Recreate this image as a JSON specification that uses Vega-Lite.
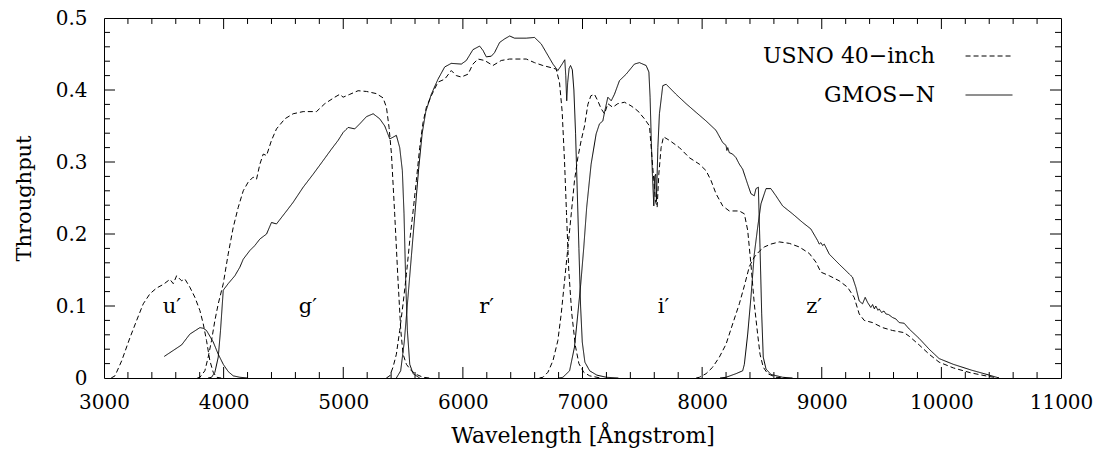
{
  "$schema": "https://vega.github.io/schema/vega-lite/v6.json",
  "width": 957,
  "height": 360,
  "autosize": {"type": "none"},
  "padding": {"left": 104, "top": 18, "right": 43, "bottom": 74},
  "background": "white",
  "config": {
    "view": {"stroke": "#000", "strokeWidth": 1},
    "font": "DejaVu Serif",
    "axis": {"grid": false, "domain": false, "labelColor": "#000", "titleColor": "#000", "labelFont": "DejaVu Serif", "titleFont": "DejaVu Serif", "titleFontWeight": "normal", "labelFontSize": 20, "labelOverlap": false, "labelFlush": false}
  },
  "datasets": {
    "labels": [
      {"lab": "u′", "w": 3568, "t": 0.098},
      {"lab": "g′", "w": 4704, "t": 0.098},
      {"lab": "r′", "w": 6198, "t": 0.098},
      {"lab": "i′", "w": 7677, "t": 0.098},
      {"lab": "z′", "w": 8937, "t": 0.098}
    ],
    "xmaj": [{"v":4000},{"v":5000},{"v":6000},{"v":7000},{"v":8000},{"v":9000},{"v":10000}],
    "xmin": [{"v":3200},{"v":3400},{"v":3600},{"v":3800},{"v":4200},{"v":4400},{"v":4600},{"v":4800},{"v":5200},{"v":5400},{"v":5600},{"v":5800},{"v":6200},{"v":6400},{"v":6600},{"v":6800},{"v":7200},{"v":7400},{"v":7600},{"v":7800},{"v":8200},{"v":8400},{"v":8600},{"v":8800},{"v":9200},{"v":9400},{"v":9600},{"v":9800},{"v":10200},{"v":10400},{"v":10600},{"v":10800}],
    "ymaj": [{"v":0.1},{"v":0.2},{"v":0.3},{"v":0.4}],
    "ymin": [{"v":0.02},{"v":0.04},{"v":0.06},{"v":0.08},{"v":0.12},{"v":0.14},{"v":0.16},{"v":0.18},{"v":0.22},{"v":0.24},{"v":0.26},{"v":0.28},{"v":0.32},{"v":0.34},{"v":0.36},{"v":0.38},{"v":0.42},{"v":0.44},{"v":0.46},{"v":0.48}],
    "curves": [
      {"s":"U","f":"u","w":3060,"t":0},{"s":"U","f":"u","w":3092,"t":0.003},{"s":"U","f":"u","w":3148,"t":0.024},{"s":"U","f":"u","w":3217,"t":0.056},{"s":"U","f":"u","w":3273,"t":0.08},{"s":"U","f":"u","w":3328,"t":0.103},{"s":"U","f":"u","w":3384,"t":0.117},{"s":"U","f":"u","w":3440,"t":0.125},{"s":"U","f":"u","w":3496,"t":0.13},{"s":"U","f":"u","w":3551,"t":0.137},{"s":"U","f":"u","w":3579,"t":0.131},{"s":"U","f":"u","w":3607,"t":0.142},{"s":"U","f":"u","w":3649,"t":0.135},{"s":"U","f":"u","w":3676,"t":0.1375},{"s":"U","f":"u","w":3718,"t":0.126},{"s":"U","f":"u","w":3760,"t":0.112},{"s":"U","f":"u","w":3802,"t":0.0935},{"s":"U","f":"u","w":3830,"t":0.075},{"s":"U","f":"u","w":3857,"t":0.052},{"s":"U","f":"u","w":3885,"t":0.024},{"s":"U","f":"u","w":3913,"t":0.008},{"s":"U","f":"u","w":3941,"t":0.001},{"s":"U","f":"u","w":3980,"t":0},
      {"s":"G","f":"u","w":3504,"t":0.03},{"s":"G","f":"u","w":3649,"t":0.046},{"s":"G","f":"u","w":3718,"t":0.061},{"s":"G","f":"u","w":3802,"t":0.07},{"s":"G","f":"u","w":3830,"t":0.069},{"s":"G","f":"u","w":3857,"t":0.066},{"s":"G","f":"u","w":3913,"t":0.05},{"s":"G","f":"u","w":3955,"t":0.033},{"s":"G","f":"u","w":3997,"t":0.019},{"s":"G","f":"u","w":4038,"t":0.009},{"s":"G","f":"u","w":4080,"t":0.003},{"s":"G","f":"u","w":4136,"t":0.001},{"s":"G","f":"u","w":4200,"t":0},
      {"s":"U","f":"g","w":3780,"t":0},{"s":"U","f":"g","w":3802,"t":0.001},{"s":"U","f":"g","w":3843,"t":0.01},{"s":"U","f":"g","w":3871,"t":0.029},{"s":"U","f":"g","w":3899,"t":0.052},{"s":"U","f":"g","w":3927,"t":0.08},{"s":"U","f":"g","w":3955,"t":0.103},{"s":"U","f":"g","w":3997,"t":0.131},{"s":"U","f":"g","w":4038,"t":0.172},{"s":"U","f":"g","w":4080,"t":0.209},{"s":"U","f":"g","w":4122,"t":0.237},{"s":"U","f":"g","w":4164,"t":0.26},{"s":"U","f":"g","w":4205,"t":0.272},{"s":"U","f":"g","w":4247,"t":0.279},{"s":"U","f":"g","w":4275,"t":0.276},{"s":"U","f":"g","w":4303,"t":0.297},{"s":"U","f":"g","w":4331,"t":0.311},{"s":"U","f":"g","w":4359,"t":0.309},{"s":"U","f":"g","w":4400,"t":0.33},{"s":"U","f":"g","w":4442,"t":0.346},{"s":"U","f":"g","w":4512,"t":0.36},{"s":"U","f":"g","w":4581,"t":0.367},{"s":"U","f":"g","w":4665,"t":0.37},{"s":"U","f":"g","w":4776,"t":0.37},{"s":"U","f":"g","w":4846,"t":0.381},{"s":"U","f":"g","w":4929,"t":0.39},{"s":"U","f":"g","w":4971,"t":0.394},{"s":"U","f":"g","w":4999,"t":0.39},{"s":"U","f":"g","w":5055,"t":0.394},{"s":"U","f":"g","w":5124,"t":0.399},{"s":"U","f":"g","w":5194,"t":0.398},{"s":"U","f":"g","w":5277,"t":0.395},{"s":"U","f":"g","w":5333,"t":0.389},{"s":"U","f":"g","w":5361,"t":0.376},{"s":"U","f":"g","w":5383,"t":0.348},{"s":"U","f":"g","w":5403,"t":0.311},{"s":"U","f":"g","w":5430,"t":0.228},{"s":"U","f":"g","w":5458,"t":0.135},{"s":"U","f":"g","w":5481,"t":0.066},{"s":"U","f":"g","w":5500,"t":0.033},{"s":"U","f":"g","w":5528,"t":0.019},{"s":"U","f":"g","w":5570,"t":0.01},{"s":"U","f":"g","w":5611,"t":0.005},{"s":"U","f":"g","w":5667,"t":0.001},{"s":"U","f":"g","w":5720,"t":0},
      {"s":"G","f":"g","w":3870,"t":0},{"s":"G","f":"g","w":3899,"t":0.001},{"s":"G","f":"g","w":3927,"t":0.008},{"s":"G","f":"g","w":3955,"t":0.029},{"s":"G","f":"g","w":3974,"t":0.066},{"s":"G","f":"g","w":3997,"t":0.122},{"s":"G","f":"g","w":4038,"t":0.131},{"s":"G","f":"g","w":4094,"t":0.142},{"s":"G","f":"g","w":4136,"t":0.154},{"s":"G","f":"g","w":4164,"t":0.165},{"s":"G","f":"g","w":4219,"t":0.177},{"s":"G","f":"g","w":4261,"t":0.184},{"s":"G","f":"g","w":4303,"t":0.193},{"s":"G","f":"g","w":4359,"t":0.2},{"s":"G","f":"g","w":4400,"t":0.216},{"s":"G","f":"g","w":4442,"t":0.214},{"s":"G","f":"g","w":4526,"t":0.232},{"s":"G","f":"g","w":4581,"t":0.244},{"s":"G","f":"g","w":4665,"t":0.265},{"s":"G","f":"g","w":4748,"t":0.283},{"s":"G","f":"g","w":4832,"t":0.302},{"s":"G","f":"g","w":4902,"t":0.318},{"s":"G","f":"g","w":4957,"t":0.33},{"s":"G","f":"g","w":4999,"t":0.341},{"s":"G","f":"g","w":5041,"t":0.348},{"s":"G","f":"g","w":5096,"t":0.346},{"s":"G","f":"g","w":5138,"t":0.353},{"s":"G","f":"g","w":5194,"t":0.363},{"s":"G","f":"g","w":5250,"t":0.367},{"s":"G","f":"g","w":5305,"t":0.36},{"s":"G","f":"g","w":5347,"t":0.35},{"s":"G","f":"g","w":5389,"t":0.332},{"s":"G","f":"g","w":5444,"t":0.337},{"s":"G","f":"g","w":5472,"t":0.32},{"s":"G","f":"g","w":5494,"t":0.288},{"s":"G","f":"g","w":5508,"t":0.228},{"s":"G","f":"g","w":5522,"t":0.135},{"s":"G","f":"g","w":5536,"t":0.066},{"s":"G","f":"g","w":5556,"t":0.019},{"s":"G","f":"g","w":5584,"t":0.006},{"s":"G","f":"g","w":5639,"t":0},
      {"s":"U","f":"r","w":5360,"t":0},{"s":"U","f":"r","w":5389,"t":0.003},{"s":"U","f":"r","w":5416,"t":0.015},{"s":"U","f":"r","w":5444,"t":0.033},{"s":"U","f":"r","w":5472,"t":0.066},{"s":"U","f":"r","w":5500,"t":0.103},{"s":"U","f":"r","w":5528,"t":0.144},{"s":"U","f":"r","w":5556,"t":0.191},{"s":"U","f":"r","w":5584,"t":0.232},{"s":"U","f":"r","w":5611,"t":0.274},{"s":"U","f":"r","w":5639,"t":0.32},{"s":"U","f":"r","w":5667,"t":0.355},{"s":"U","f":"r","w":5695,"t":0.376},{"s":"U","f":"r","w":5736,"t":0.392},{"s":"U","f":"r","w":5792,"t":0.411},{"s":"U","f":"r","w":5848,"t":0.415},{"s":"U","f":"r","w":5903,"t":0.427},{"s":"U","f":"r","w":5945,"t":0.42},{"s":"U","f":"r","w":5987,"t":0.418},{"s":"U","f":"r","w":6043,"t":0.422},{"s":"U","f":"r","w":6084,"t":0.436},{"s":"U","f":"r","w":6126,"t":0.443},{"s":"U","f":"r","w":6182,"t":0.441},{"s":"U","f":"r","w":6251,"t":0.434},{"s":"U","f":"r","w":6321,"t":0.441},{"s":"U","f":"r","w":6391,"t":0.443},{"s":"U","f":"r","w":6530,"t":0.443},{"s":"U","f":"r","w":6599,"t":0.438},{"s":"U","f":"r","w":6669,"t":0.434},{"s":"U","f":"r","w":6739,"t":0.431},{"s":"U","f":"r","w":6780,"t":0.429},{"s":"U","f":"r","w":6808,"t":0.41},{"s":"U","f":"r","w":6830,"t":0.37},{"s":"U","f":"r","w":6850,"t":0.3},{"s":"U","f":"r","w":6866,"t":0.23},{"s":"U","f":"r","w":6885,"t":0.15},{"s":"U","f":"r","w":6910,"t":0.09},{"s":"U","f":"r","w":6940,"t":0.045},{"s":"U","f":"r","w":6970,"t":0.02},{"s":"U","f":"r","w":7010,"t":0.008},{"s":"U","f":"r","w":7060,"t":0.003},{"s":"U","f":"r","w":7150,"t":0},
      {"s":"G","f":"r","w":5444,"t":0},{"s":"G","f":"r","w":5480,"t":0.01},{"s":"G","f":"r","w":5510,"t":0.05},{"s":"G","f":"r","w":5540,"t":0.11},{"s":"G","f":"r","w":5570,"t":0.17},{"s":"G","f":"r","w":5600,"t":0.23},{"s":"G","f":"r","w":5630,"t":0.29},{"s":"G","f":"r","w":5660,"t":0.34},{"s":"G","f":"r","w":5690,"t":0.37},{"s":"G","f":"r","w":5736,"t":0.394},{"s":"G","f":"r","w":5792,"t":0.415},{"s":"G","f":"r","w":5848,"t":0.432},{"s":"G","f":"r","w":5903,"t":0.437},{"s":"G","f":"r","w":5987,"t":0.436},{"s":"G","f":"r","w":6029,"t":0.441},{"s":"G","f":"r","w":6084,"t":0.456},{"s":"G","f":"r","w":6140,"t":0.461},{"s":"G","f":"r","w":6168,"t":0.455},{"s":"G","f":"r","w":6196,"t":0.446},{"s":"G","f":"r","w":6238,"t":0.447},{"s":"G","f":"r","w":6265,"t":0.452},{"s":"G","f":"r","w":6307,"t":0.466},{"s":"G","f":"r","w":6349,"t":0.471},{"s":"G","f":"r","w":6391,"t":0.475},{"s":"G","f":"r","w":6432,"t":0.472},{"s":"G","f":"r","w":6530,"t":0.472},{"s":"G","f":"r","w":6599,"t":0.473},{"s":"G","f":"r","w":6655,"t":0.464},{"s":"G","f":"r","w":6711,"t":0.448},{"s":"G","f":"r","w":6753,"t":0.436},{"s":"G","f":"r","w":6794,"t":0.427},{"s":"G","f":"r","w":6822,"t":0.434},{"s":"G","f":"r","w":6852,"t":0.442},{"s":"G","f":"r","w":6860,"t":0.42},{"s":"G","f":"r","w":6868,"t":0.385},{"s":"G","f":"r","w":6876,"t":0.41},{"s":"G","f":"r","w":6888,"t":0.43},{"s":"G","f":"r","w":6900,"t":0.434},{"s":"G","f":"r","w":6915,"t":0.428},{"s":"G","f":"r","w":6928,"t":0.4},{"s":"G","f":"r","w":6942,"t":0.34},{"s":"G","f":"r","w":6956,"t":0.26},{"s":"G","f":"r","w":6970,"t":0.18},{"s":"G","f":"r","w":6984,"t":0.1},{"s":"G","f":"r","w":6998,"t":0.05},{"s":"G","f":"r","w":7020,"t":0.022},{"s":"G","f":"r","w":7060,"t":0.01},{"s":"G","f":"r","w":7120,"t":0.004},{"s":"G","f":"r","w":7200,"t":0.001},{"s":"G","f":"r","w":7300,"t":0},
      {"s":"U","f":"i","w":6640,"t":0},{"s":"U","f":"i","w":6669,"t":0.001},{"s":"U","f":"i","w":6711,"t":0.008},{"s":"U","f":"i","w":6753,"t":0.024},{"s":"U","f":"i","w":6794,"t":0.052},{"s":"U","f":"i","w":6822,"t":0.089},{"s":"U","f":"i","w":6850,"t":0.135},{"s":"U","f":"i","w":6878,"t":0.181},{"s":"U","f":"i","w":6906,"t":0.228},{"s":"U","f":"i","w":6933,"t":0.274},{"s":"U","f":"i","w":6961,"t":0.306},{"s":"U","f":"i","w":6989,"t":0.33},{"s":"U","f":"i","w":7017,"t":0.35},{"s":"U","f":"i","w":7045,"t":0.38},{"s":"U","f":"i","w":7070,"t":0.392},{"s":"U","f":"i","w":7100,"t":0.394},{"s":"U","f":"i","w":7128,"t":0.385},{"s":"U","f":"i","w":7156,"t":0.374},{"s":"U","f":"i","w":7184,"t":0.367},{"s":"U","f":"i","w":7212,"t":0.381},{"s":"U","f":"i","w":7253,"t":0.376},{"s":"U","f":"i","w":7295,"t":0.381},{"s":"U","f":"i","w":7351,"t":0.383},{"s":"U","f":"i","w":7406,"t":0.378},{"s":"U","f":"i","w":7462,"t":0.371},{"s":"U","f":"i","w":7518,"t":0.36},{"s":"U","f":"i","w":7560,"t":0.35},{"s":"U","f":"i","w":7587,"t":0.293},{"s":"U","f":"i","w":7610,"t":0.246},{"s":"U","f":"i","w":7624,"t":0.237},{"s":"U","f":"i","w":7638,"t":0.283},{"s":"U","f":"i","w":7657,"t":0.32},{"s":"U","f":"i","w":7677,"t":0.335},{"s":"U","f":"i","w":7727,"t":0.33},{"s":"U","f":"i","w":7810,"t":0.32},{"s":"U","f":"i","w":7893,"t":0.306},{"s":"U","f":"i","w":7977,"t":0.297},{"s":"U","f":"i","w":8033,"t":0.288},{"s":"U","f":"i","w":8075,"t":0.274},{"s":"U","f":"i","w":8116,"t":0.256},{"s":"U","f":"i","w":8172,"t":0.239},{"s":"U","f":"i","w":8227,"t":0.232},{"s":"U","f":"i","w":8283,"t":0.232},{"s":"U","f":"i","w":8311,"t":0.232},{"s":"U","f":"i","w":8353,"t":0.228},{"s":"U","f":"i","w":8381,"t":0.205},{"s":"U","f":"i","w":8408,"t":0.158},{"s":"U","f":"i","w":8436,"t":0.103},{"s":"U","f":"i","w":8464,"t":0.061},{"s":"U","f":"i","w":8484,"t":0.033},{"s":"U","f":"i","w":8511,"t":0.015},{"s":"U","f":"i","w":8548,"t":0.006},{"s":"U","f":"i","w":8617,"t":0.001},{"s":"U","f":"i","w":8700,"t":0},
      {"s":"G","f":"i","w":6800,"t":0},{"s":"G","f":"i","w":6836,"t":0.001},{"s":"G","f":"i","w":6892,"t":0.01},{"s":"G","f":"i","w":6933,"t":0.043},{"s":"G","f":"i","w":6961,"t":0.089},{"s":"G","f":"i","w":6985,"t":0.13},{"s":"G","f":"i","w":7010,"t":0.18},{"s":"G","f":"i","w":7035,"t":0.237},{"s":"G","f":"i","w":7072,"t":0.297},{"s":"G","f":"i","w":7114,"t":0.339},{"s":"G","f":"i","w":7142,"t":0.353},{"s":"G","f":"i","w":7170,"t":0.357},{"s":"G","f":"i","w":7184,"t":0.369},{"s":"G","f":"i","w":7212,"t":0.39},{"s":"G","f":"i","w":7240,"t":0.385},{"s":"G","f":"i","w":7267,"t":0.394},{"s":"G","f":"i","w":7309,"t":0.413},{"s":"G","f":"i","w":7365,"t":0.422},{"s":"G","f":"i","w":7434,"t":0.436},{"s":"G","f":"i","w":7476,"t":0.438},{"s":"G","f":"i","w":7532,"t":0.434},{"s":"G","f":"i","w":7555,"t":0.425},{"s":"G","f":"i","w":7565,"t":0.39},{"s":"G","f":"i","w":7575,"t":0.33},{"s":"G","f":"i","w":7585,"t":0.28},{"s":"G","f":"i","w":7596,"t":0.239},{"s":"G","f":"i","w":7603,"t":0.28},{"s":"G","f":"i","w":7612,"t":0.283},{"s":"G","f":"i","w":7618,"t":0.245},{"s":"G","f":"i","w":7630,"t":0.32},{"s":"G","f":"i","w":7643,"t":0.367},{"s":"G","f":"i","w":7671,"t":0.406},{"s":"G","f":"i","w":7699,"t":0.408},{"s":"G","f":"i","w":7782,"t":0.394},{"s":"G","f":"i","w":7866,"t":0.381},{"s":"G","f":"i","w":7949,"t":0.369},{"s":"G","f":"i","w":8033,"t":0.357},{"s":"G","f":"i","w":8116,"t":0.344},{"s":"G","f":"i","w":8172,"t":0.327},{"s":"G","f":"i","w":8200,"t":0.323},{"s":"G","f":"i","w":8207,"t":0.316},{"s":"G","f":"i","w":8214,"t":0.32},{"s":"G","f":"i","w":8227,"t":0.313},{"s":"G","f":"i","w":8255,"t":0.311},{"s":"G","f":"i","w":8283,"t":0.306},{"s":"G","f":"i","w":8311,"t":0.297},{"s":"G","f":"i","w":8339,"t":0.29},{"s":"G","f":"i","w":8381,"t":0.269},{"s":"G","f":"i","w":8408,"t":0.256},{"s":"G","f":"i","w":8436,"t":0.253},{"s":"G","f":"i","w":8450,"t":0.263},{"s":"G","f":"i","w":8470,"t":0.265},{"s":"G","f":"i","w":8484,"t":0.181},{"s":"G","f":"i","w":8498,"t":0.089},{"s":"G","f":"i","w":8511,"t":0.029},{"s":"G","f":"i","w":8534,"t":0.0125},{"s":"G","f":"i","w":8575,"t":0.005},{"s":"G","f":"i","w":8673,"t":0.001},{"s":"G","f":"i","w":8756,"t":0},
      {"s":"U","f":"z","w":7950,"t":0},{"s":"U","f":"z","w":7977,"t":0.001},{"s":"U","f":"z","w":8033,"t":0.006},{"s":"U","f":"z","w":8088,"t":0.015},{"s":"U","f":"z","w":8144,"t":0.029},{"s":"U","f":"z","w":8200,"t":0.047},{"s":"U","f":"z","w":8255,"t":0.075},{"s":"U","f":"z","w":8311,"t":0.103},{"s":"U","f":"z","w":8353,"t":0.128},{"s":"U","f":"z","w":8395,"t":0.155},{"s":"U","f":"z","w":8436,"t":0.168},{"s":"U","f":"z","w":8478,"t":0.176},{"s":"U","f":"z","w":8520,"t":0.182},{"s":"U","f":"z","w":8575,"t":0.186},{"s":"U","f":"z","w":8645,"t":0.189},{"s":"U","f":"z","w":8729,"t":0.187},{"s":"U","f":"z","w":8812,"t":0.182},{"s":"U","f":"z","w":8896,"t":0.173},{"s":"U","f":"z","w":8951,"t":0.161},{"s":"U","f":"z","w":8993,"t":0.147},{"s":"U","f":"z","w":9063,"t":0.142},{"s":"U","f":"z","w":9146,"t":0.135},{"s":"U","f":"z","w":9216,"t":0.126},{"s":"U","f":"z","w":9271,"t":0.112},{"s":"U","f":"z","w":9313,"t":0.089},{"s":"U","f":"z","w":9355,"t":0.08},{"s":"U","f":"z","w":9424,"t":0.077},{"s":"U","f":"z","w":9508,"t":0.07},{"s":"U","f":"z","w":9591,"t":0.066},{"s":"U","f":"z","w":9689,"t":0.063},{"s":"U","f":"z","w":9731,"t":0.058},{"s":"U","f":"z","w":9814,"t":0.046},{"s":"U","f":"z","w":9898,"t":0.033},{"s":"U","f":"z","w":9981,"t":0.022},{"s":"U","f":"z","w":10100,"t":0.014},{"s":"U","f":"z","w":10250,"t":0.007},{"s":"U","f":"z","w":10400,"t":0.002},{"s":"U","f":"z","w":10482,"t":0},
      {"s":"G","f":"z","w":8150,"t":0},{"s":"G","f":"z","w":8200,"t":0.001},{"s":"G","f":"z","w":8283,"t":0.006},{"s":"G","f":"z","w":8339,"t":0.01},{"s":"G","f":"z","w":8353,"t":0.019},{"s":"G","f":"z","w":8381,"t":0.061},{"s":"G","f":"z","w":8408,"t":0.112},{"s":"G","f":"z","w":8436,"t":0.172},{"s":"G","f":"z","w":8464,"t":0.209},{"s":"G","f":"z","w":8492,"t":0.242},{"s":"G","f":"z","w":8534,"t":0.263},{"s":"G","f":"z","w":8575,"t":0.263},{"s":"G","f":"z","w":8617,"t":0.253},{"s":"G","f":"z","w":8673,"t":0.239},{"s":"G","f":"z","w":8756,"t":0.228},{"s":"G","f":"z","w":8840,"t":0.216},{"s":"G","f":"z","w":8909,"t":0.207},{"s":"G","f":"z","w":8965,"t":0.191},{"s":"G","f":"z","w":8979,"t":0.186},{"s":"G","f":"z","w":8993,"t":0.188},{"s":"G","f":"z","w":9007,"t":0.184},{"s":"G","f":"z","w":9021,"t":0.186},{"s":"G","f":"z","w":9063,"t":0.172},{"s":"G","f":"z","w":9146,"t":0.158},{"s":"G","f":"z","w":9202,"t":0.149},{"s":"G","f":"z","w":9257,"t":0.14},{"s":"G","f":"z","w":9285,"t":0.126},{"s":"G","f":"z","w":9313,"t":0.107},{"s":"G","f":"z","w":9341,"t":0.103},{"s":"G","f":"z","w":9363,"t":0.112},{"s":"G","f":"z","w":9383,"t":0.105},{"s":"G","f":"z","w":9410,"t":0.098},{"s":"G","f":"z","w":9425,"t":0.102},{"s":"G","f":"z","w":9440,"t":0.096},{"s":"G","f":"z","w":9452,"t":0.1},{"s":"G","f":"z","w":9470,"t":0.094},{"s":"G","f":"z","w":9480,"t":0.096},{"s":"G","f":"z","w":9500,"t":0.091},{"s":"G","f":"z","w":9520,"t":0.093},{"s":"G","f":"z","w":9536,"t":0.089},{"s":"G","f":"z","w":9560,"t":0.088},{"s":"G","f":"z","w":9592,"t":0.084},{"s":"G","f":"z","w":9620,"t":0.082},{"s":"G","f":"z","w":9647,"t":0.077},{"s":"G","f":"z","w":9689,"t":0.076},{"s":"G","f":"z","w":9731,"t":0.068},{"s":"G","f":"z","w":9814,"t":0.055},{"s":"G","f":"z","w":9898,"t":0.04},{"s":"G","f":"z","w":9981,"t":0.027},{"s":"G","f":"z","w":10100,"t":0.019},{"s":"G","f":"z","w":10250,"t":0.011},{"s":"G","f":"z","w":10400,"t":0.004},{"s":"G","f":"z","w":10482,"t":0}
    ]
  },
  "layer": [
    {
      "data": {"name": "curves"},
      "mark": {"type": "line", "color": "#000", "strokeWidth": 1, "clip": true},
      "encoding": {
        "x": {"field": "w", "type": "quantitative", "scale": {"domain": [3000, 11000], "nice": false, "zero": false},
          "axis": {"orient": "bottom", "values": [3000, 4000, 5000, 6000, 7000, 8000, 9000, 10000, 11000], "format": "d", "ticks": false, "tickSize": 0, "labelPadding": 14, "title": "Wavelength [Ångstrom]", "titleFontSize": 22, "titlePadding": 13}},
        "y": {"field": "t", "type": "quantitative", "scale": {"domain": [0, 0.5], "nice": false, "zero": false},
          "axis": {"orient": "left", "values": [0, 0.1, 0.2, 0.3, 0.4, 0.5], "format": ".1~f", "ticks": false, "tickSize": 0, "labelPadding": 17, "title": "Throughput", "titleFontSize": 21, "titlePadding": 21}},
        "strokeDash": {"field": "s", "type": "nominal", "scale": {"domain": ["U", "G"], "range": [[5, 3], [1, 0]]},
          "legend": {"title": null, "orient": "none", "legendX": 861, "legendY": 14, "padding": 0, "symbolType": "stroke", "symbolSize": 2200, "symbolStrokeWidth": 1, "symbolStrokeColor": "#000", "labelFont": "DejaVu Serif", "labelFontSize": 22, "labelColor": "#000", "labelAlign": "right", "labelOffset": -78, "labelLimit": 400, "rowPadding": 4, "labelExpr": "datum.label == 'U' ? 'USNO 40−inch' : 'GMOS−N'"}},
        "detail": {"field": "f", "type": "nominal"}
      }
    },
    {
      "data": {"name": "labels"},
      "mark": {"type": "text", "font": "DejaVu Serif", "fontSize": 21, "color": "#000", "baseline": "middle", "align": "center"},
      "encoding": {
        "x": {"field": "w", "type": "quantitative", "scale": {"domain": [3000, 11000], "nice": false, "zero": false}, "axis": null},
        "y": {"field": "t", "type": "quantitative", "scale": {"domain": [0, 0.5], "nice": false, "zero": false}, "axis": null},
        "text": {"field": "lab", "type": "nominal"}
      }
    },
    {
      "data": {"name": "xmaj"},
      "mark": {"type": "rule", "color": "#000", "strokeWidth": 1},
      "encoding": {
        "x": {"field": "v", "type": "quantitative", "scale": {"domain": [3000, 11000], "nice": false, "zero": false}, "axis": null},
        "y": {"datum": 0, "type": "quantitative", "scale": {"domain": [0, 0.5], "nice": false, "zero": false}, "axis": null},
        "y2": {"datum": 0.0153}
      }
    },
    {
      "data": {"name": "xmaj"},
      "mark": {"type": "rule", "color": "#000", "strokeWidth": 1},
      "encoding": {
        "x": {"field": "v", "type": "quantitative", "scale": {"domain": [3000, 11000], "nice": false, "zero": false}, "axis": null},
        "y": {"datum": 0.5, "type": "quantitative", "scale": {"domain": [0, 0.5], "nice": false, "zero": false}, "axis": null},
        "y2": {"datum": 0.4847}
      }
    },
    {
      "data": {"name": "xmin"},
      "mark": {"type": "rule", "color": "#000", "strokeWidth": 1},
      "encoding": {
        "x": {"field": "v", "type": "quantitative", "scale": {"domain": [3000, 11000], "nice": false, "zero": false}, "axis": null},
        "y": {"datum": 0, "type": "quantitative", "scale": {"domain": [0, 0.5], "nice": false, "zero": false}, "axis": null},
        "y2": {"datum": 0.0083}
      }
    },
    {
      "data": {"name": "xmin"},
      "mark": {"type": "rule", "color": "#000", "strokeWidth": 1},
      "encoding": {
        "x": {"field": "v", "type": "quantitative", "scale": {"domain": [3000, 11000], "nice": false, "zero": false}, "axis": null},
        "y": {"datum": 0.5, "type": "quantitative", "scale": {"domain": [0, 0.5], "nice": false, "zero": false}, "axis": null},
        "y2": {"datum": 0.4917}
      }
    },
    {
      "data": {"name": "ymaj"},
      "mark": {"type": "rule", "color": "#000", "strokeWidth": 1},
      "encoding": {
        "y": {"field": "v", "type": "quantitative", "scale": {"domain": [0, 0.5], "nice": false, "zero": false}, "axis": null},
        "x": {"datum": 3000, "type": "quantitative", "scale": {"domain": [3000, 11000], "nice": false, "zero": false}, "axis": null},
        "x2": {"datum": 3092}
      }
    },
    {
      "data": {"name": "ymaj"},
      "mark": {"type": "rule", "color": "#000", "strokeWidth": 1},
      "encoding": {
        "y": {"field": "v", "type": "quantitative", "scale": {"domain": [0, 0.5], "nice": false, "zero": false}, "axis": null},
        "x": {"datum": 11000, "type": "quantitative", "scale": {"domain": [3000, 11000], "nice": false, "zero": false}, "axis": null},
        "x2": {"datum": 10908}
      }
    },
    {
      "data": {"name": "ymin"},
      "mark": {"type": "rule", "color": "#000", "strokeWidth": 1},
      "encoding": {
        "y": {"field": "v", "type": "quantitative", "scale": {"domain": [0, 0.5], "nice": false, "zero": false}, "axis": null},
        "x": {"datum": 3000, "type": "quantitative", "scale": {"domain": [3000, 11000], "nice": false, "zero": false}, "axis": null},
        "x2": {"datum": 3050}
      }
    },
    {
      "data": {"name": "ymin"},
      "mark": {"type": "rule", "color": "#000", "strokeWidth": 1},
      "encoding": {
        "y": {"field": "v", "type": "quantitative", "scale": {"domain": [0, 0.5], "nice": false, "zero": false}, "axis": null},
        "x": {"datum": 11000, "type": "quantitative", "scale": {"domain": [3000, 11000], "nice": false, "zero": false}, "axis": null},
        "x2": {"datum": 10950}
      }
    }
  ],
  "resolve": {"axis": {"x": "independent", "y": "independent"}}
}
